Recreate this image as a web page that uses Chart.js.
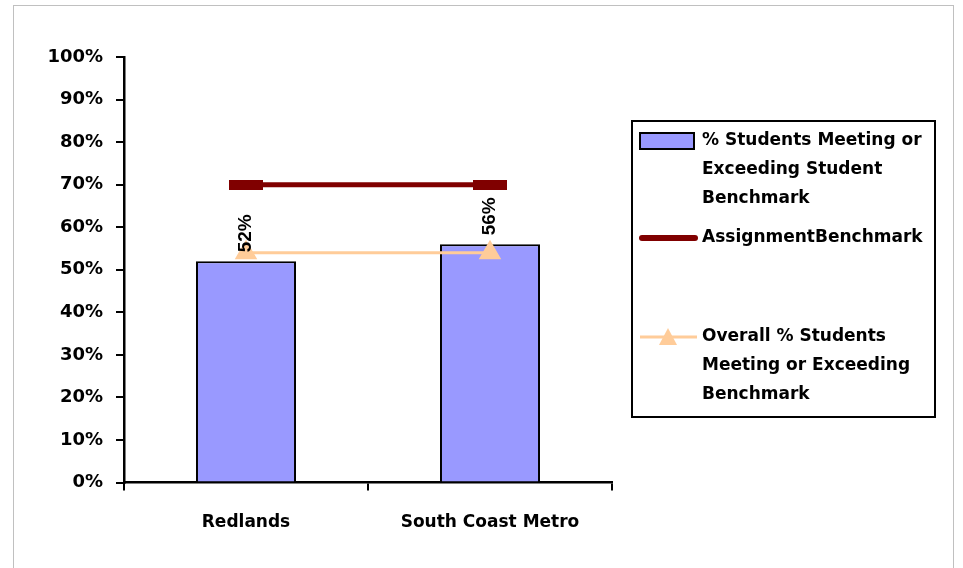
<!DOCTYPE html>
<html>
<head>
<meta charset="utf-8">
<script src="https://cdn.jsdelivr.net/npm/chart.js@4.4.1/dist/chart.umd.min.js"></script>
<style>
  html, body { margin: 0; padding: 0; background: #fff; overflow: hidden; }
  #frame { position: absolute; left: 13px; top: 5px; width: 939px; height: 620px; border: 1px solid #c0c0c0; }
  #wrap { position: absolute; left: 0; top: 0; width: 963px; height: 568px; }
</style>
</head>
<body>
<div id="frame"></div>
<div id="wrap"><canvas id="chart"></canvas></div>
<script>
// chart data
const categories = ['Redlands', 'South Coast Metro'];
const studentPct = [52, 56];
const benchmarkPct = [70, 70];
const overallPct = [54, 54];
const yTickLabels = ['0%', '10%', '20%', '30%', '40%', '50%', '60%', '70%', '80%', '90%', '100%'];
const seriesNames = [
    '% Students Meeting or Exceeding Student Benchmark',
    'AssignmentBenchmark',
    'Overall % Students Meeting or Exceeding Benchmark'
];
const legendLines = [
    ['% Students Meeting or', 'Exceeding Student', 'Benchmark'],
    ['AssignmentBenchmark'],
    ['Overall % Students', 'Meeting or Exceeding', 'Benchmark']
];

const BAR_COLOR = '#9999FF';
const BENCH_COLOR = '#800000';
const OVERALL_COLOR = '#FFCC99';
const FONT = '"DejaVu Sans", Verdana, sans-serif';

// wide flat marker for the benchmark line
function dashMarker(w, h, color) {
    const c = document.createElement('canvas');
    c.width = w;
    c.height = h;
    const g = c.getContext('2d');
    g.fillStyle = color;
    g.fillRect(0, 0, w, h);
    return c;
}

const barLabels = {
    id: 'barLabels',
    afterDatasetsDraw(chart) {
        const ctx = chart.ctx;
        const meta = chart.getDatasetMeta(0);
        ctx.save();
        ctx.font = 'bold 19px "Liberation Sans", Arial, sans-serif';
        ctx.fillStyle = '#000';
        ctx.textAlign = 'left';
        ctx.textBaseline = 'middle';
        meta.data.forEach((bar, i) => {
            ctx.save();
            ctx.translate(bar.x, bar.y - 9);
            ctx.rotate(-Math.PI / 2);
            ctx.fillText(studentPct[i] + '%', 0, 0);
            ctx.restore();
        });
        ctx.restore();
    }
};

const legendBox = {
    id: 'legendBox',
    afterDraw(chart) {
        const ctx = chart.ctx;
        ctx.save();
        ctx.strokeStyle = '#000';
        ctx.lineWidth = 2;
        ctx.strokeRect(632, 121, 303, 296);

        // bar swatch
        ctx.fillStyle = BAR_COLOR;
        ctx.fillRect(640, 133, 54, 16);
        ctx.strokeRect(640, 133, 54, 16);

        // benchmark swatch
        ctx.strokeStyle = BENCH_COLOR;
        ctx.lineWidth = 6;
        ctx.lineCap = 'round';
        ctx.beginPath();
        ctx.moveTo(642, 238);
        ctx.lineTo(695, 238);
        ctx.stroke();

        // overall swatch
        ctx.strokeStyle = OVERALL_COLOR;
        ctx.lineWidth = 3;
        ctx.lineCap = 'butt';
        ctx.beginPath();
        ctx.moveTo(640, 337);
        ctx.lineTo(697, 337);
        ctx.stroke();
        ctx.fillStyle = OVERALL_COLOR;
        ctx.beginPath();
        ctx.moveTo(668, 328);
        ctx.lineTo(677, 345);
        ctx.lineTo(659, 345);
        ctx.closePath();
        ctx.fill();

        ctx.fillStyle = '#000';
        ctx.font = 'bold 17px ' + FONT;
        ctx.textAlign = 'left';
        ctx.textBaseline = 'middle';
        const starts = [141, 238, 337];
        legendLines.forEach((lines, k) => {
            lines.forEach((t, j) => ctx.fillText(t, 702, starts[k] + j * 29));
        });
        ctx.restore();
    }
};

new Chart(document.getElementById('chart'), {
    type: 'bar',
    data: {
        labels: categories,
        datasets: [
            {
                type: 'bar',
                label: seriesNames[0],
                data: studentPct,
                backgroundColor: BAR_COLOR,
                borderColor: '#000',
                borderWidth: 2,
                categoryPercentage: 1,
                barPercentage: 0.41,
                order: 3
            },
            {
                type: 'line',
                label: seriesNames[1],
                data: benchmarkPct,
                borderColor: BENCH_COLOR,
                borderWidth: 5,
                pointStyle: dashMarker(34, 10, BENCH_COLOR),
                order: 2
            },
            {
                type: 'line',
                label: seriesNames[2],
                data: overallPct,
                borderColor: OVERALL_COLOR,
                backgroundColor: OVERALL_COLOR,
                borderWidth: 3,
                pointStyle: 'triangle',
                pointRadius: 10,
                order: 1
            }
        ]
    },
    options: {
        responsive: true,
        maintainAspectRatio: false,
        animation: false,
        layout: { padding: { left: 0, top: 57, right: 351, bottom: 13 } },
        plugins: {
            legend: { display: false },
            tooltip: { enabled: false }
        },
        scales: {
            x: {
                offset: true,
                grid: { offset: true, drawOnChartArea: false, tickLength: 8, color: '#000', lineWidth: 2 },
                border: { color: '#000', width: 2.5 },
                ticks: {
                    color: '#000',
                    padding: 22,
                    maxRotation: 0,
                    font: { family: FONT, size: 17, weight: 'bold' }
                }
            },
            y: {
                min: 0,
                max: 100,
                afterFit(scale) { scale.width = 124; },
                grid: { drawOnChartArea: false, tickLength: 8, color: '#000', lineWidth: 2 },
                border: { color: '#000', width: 2.5 },
                ticks: {
                    stepSize: 10,
                    padding: 13,
                    color: '#000',
                    font: { family: FONT, size: 18, weight: 'bold' },
                    callback: (v, i) => yTickLabels[i]
                }
            }
        }
    },
    plugins: [barLabels, legendBox]
});
</script>
</body>
</html>
